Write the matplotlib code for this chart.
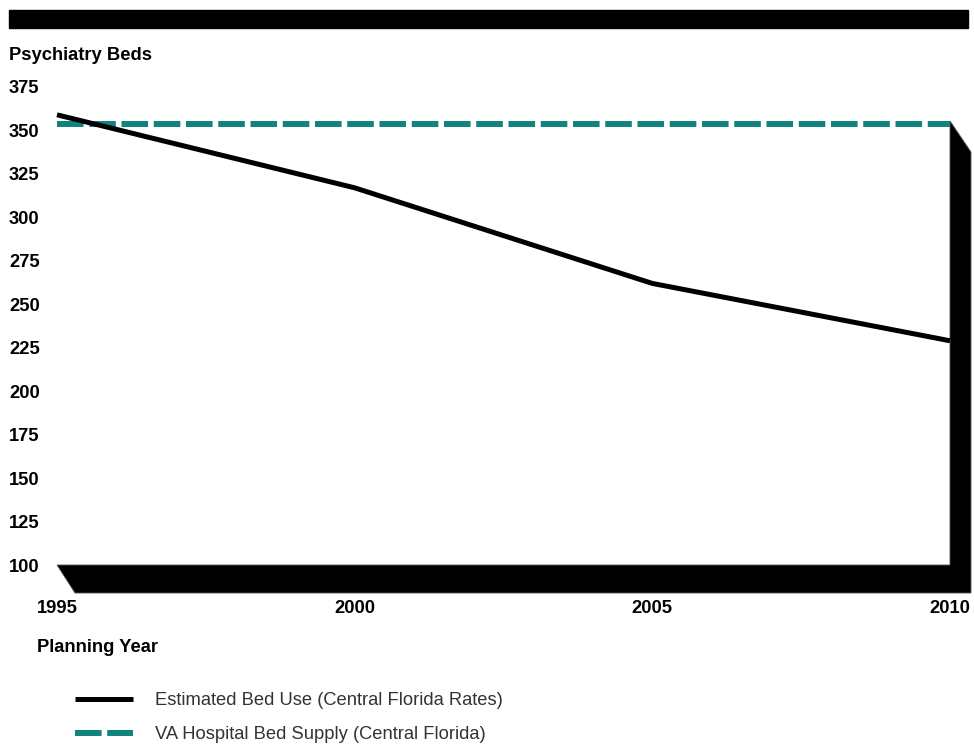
import matplotlib.pyplot as plt
from matplotlib.patches import Polygon, Rectangle

plt.rcParams["font.family"] = ["Liberation Sans", "DejaVu Sans"]

years = [1995, 2000, 2005, 2010]
bed_use = [359, 317, 262, 229]
bed_supply = [354, 354, 354, 354]
y_ticks = [100, 125, 150, 175, 200, 225, 250, 275, 300, 325, 350, 375]
x_ticks = [1995, 2000, 2005, 2010]

teal = "#10837c"
fs = 13.2

fig = plt.figure(figsize=(9.74, 7.46), dpi=100)
W, H = 974, 746
ax = fig.add_axes([57 / W, 1 - 565 / H, 893 / W, 478 / H])

# black header bar
fig.patches.append(Rectangle((9 / W, 1 - 28 / H), 959 / W, 18 / H,
                             transform=fig.transFigure, color="black"))

# 3d-looking floor and right wall
frame = Polygon([(0, 0), (1, 0), (1, 0.929), (1.0235, 0.864),
                 (1.0235, -0.0586), (0.0202, -0.0586)],
                closed=True, transform=ax.transAxes, facecolor="black",
                edgecolor="#555555", lw=0.6, clip_on=False, zorder=1)
ax.add_patch(frame)

ax.plot(years, bed_use, color="black", lw=3.6, solid_joinstyle="round",
        solid_capstyle="butt", clip_on=False, zorder=3,
        label="Estimated Bed Use (Central Florida Rates)")
ax.plot(years, bed_supply, color=teal, lw=4.3, dashes=(4.45, 0.95),
        dash_capstyle="butt", clip_on=False, zorder=2,
        label="VA Hospital Bed Supply (Central Florida)")

ax.set_xlim(1995, 2010)
ax.set_ylim(100, 375)
ax.set_xticks(x_ticks)
ax.set_yticks(y_ticks)
for s in ax.spines.values():
    s.set_visible(False)

ax.tick_params(axis="y", length=0, pad=34.6, labelsize=fs)
ax.tick_params(axis="x", length=0, pad=25, labelsize=fs)
for lab in ax.get_yticklabels():
    lab.set_horizontalalignment("left")
    lab.set_fontweight("bold")
for lab in ax.get_xticklabels():
    lab.set_fontweight("bold")

fig.text(9 / W, 1 - 55 / H, "Psychiatry Beds", fontsize=fs,
         fontweight="bold", va="center", ha="left")
fig.text(37 / W, 1 - 648 / H, "Planning Year", fontsize=fs,
         fontweight="bold", va="center", ha="left")

leg = fig.legend(loc="upper left", bbox_to_anchor=(75 / W, 1 - 692 / H),
                 frameon=False, fontsize=fs, handlelength=3.17,
                 handletextpad=1.2, labelspacing=0.95, borderpad=0,
                 borderaxespad=0)
for t in leg.get_texts():
    t.set_color("#333333")

plt.savefig("out.png", dpi=100)
